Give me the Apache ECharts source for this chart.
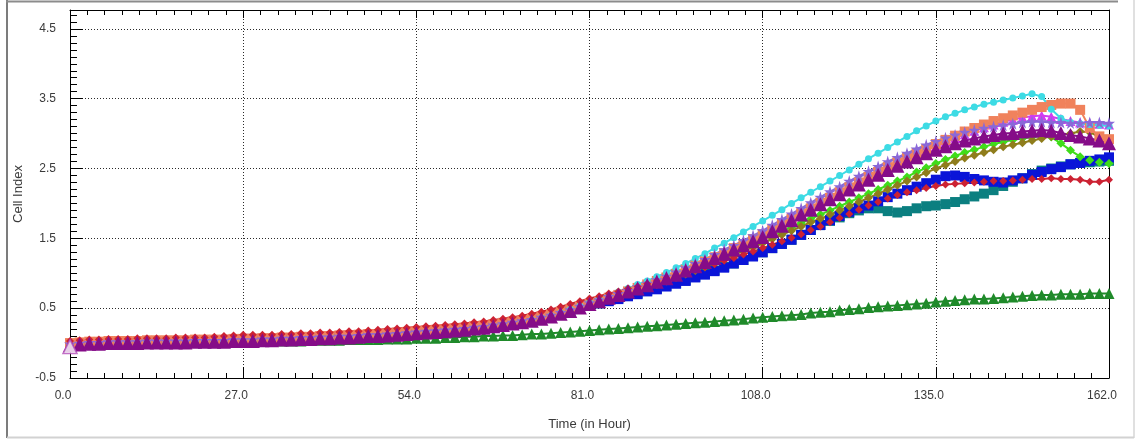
<!DOCTYPE html>
<html>
<head>
<meta charset="utf-8">
<script src="https://cdn.jsdelivr.net/npm/echarts@6/dist/echarts.min.js"></script>
<style>
  html, body { margin: 0; padding: 0; background: #ffffff; }
  #chart { width: 1140px; height: 443px; }
</style>
</head>
<body>
<div id="chart"></div>
<script>
// Cell Index time course, one array per well, sampled every 1.5 h
const hours = [0,1.5,3,4.5,6,7.5,9,10.5,12,13.5,15,16.5,18,19.5,21,22.5,24,25.5,27,28.5,
  30,31.5,33,34.5,36,37.5,39,40.5,42,43.5,45,46.5,48,49.5,51,52.5,54,55.5,57,58.5,
  60,61.5,63,64.5,66,67.5,69,70.5,72,73.5,75,76.5,78,79.5,81,82.5,84,85.5,87,88.5,
  90,91.5,93,94.5,96,97.5,99,100.5,102,103.5,105,106.5,108,109.5,111,112.5,114,115.5,117,118.5,
  120,121.5,123,124.5,126,127.5,129,130.5,132,133.5,135,136.5,138,139.5,141,142.5,144,145.5,147,148.5,
  150,151.5,153,154.5,156,157.5,159,160.5,162];

const ciPurple = [-0.03,-0.02,-0.01,-0.01,0.00,0.00,0.00,0.00,0.01,0.01, 0.01,0.01,0.01,0.02,0.02,0.02,0.02,0.03,0.03,0.03,
  0.04,0.04,0.05,0.05,0.06,0.06,0.07,0.07,0.08,0.08, 0.09,0.10,0.10,0.11,0.12,0.13,0.14,0.15,0.16,0.17,
  0.18,0.19,0.21,0.22,0.24,0.26,0.28,0.30,0.32,0.35, 0.38,0.42,0.46,0.51,
  0.56,0.60,0.65,0.69,0.74,0.78,0.83,0.88,0.93,0.98, 1.04,1.10,1.16,1.22,1.28,1.34,1.40,1.46,1.52,1.60,
  1.68,1.76,1.84,1.91,1.99,2.06,2.13,2.20,2.27,2.34, 2.41,2.48,2.54,2.60,2.66,2.72,2.77,2.82,2.86,2.90,
  2.93,2.96,2.98,3.00,3.01,3.03,3.04,3.05,3.04,3.01, 2.98,2.96,2.93,2.90,2.86];

const ciSlate = [-0.01,0.00,0.01,0.01,0.02,0.02,0.02,0.02,0.03,0.03, 0.03,0.03,0.03,0.04,0.04,0.04,0.04,0.05,0.05,0.05,
  0.06,0.06,0.07,0.07,0.08,0.08,0.09,0.09,0.10,0.10, 0.11,0.12,0.12,0.13,0.14,0.15,0.16,0.17,0.18,0.19,
  0.20,0.21,0.23,0.24,0.26,0.28,0.30,0.32,0.34,0.37, 0.40,0.44,0.48,0.53,
  0.58,0.62,0.67,0.71,0.76,0.81,0.86,0.91,0.96,1.02, 1.08,1.14,1.20,1.27,1.34,1.40,1.47,1.54,1.61,1.69,
  1.77,1.85,1.93,2.01,2.09,2.17,2.24,2.32,2.39,2.46, 2.53,2.60,2.66,2.72,2.78,2.84,2.89,2.94,2.98,3.02,
  3.05,3.08,3.10,3.12,3.14,3.16,3.17,3.17,3.16,3.16, 3.15,3.15,3.16,3.16,3.15];

const ciViolet = [-0.02,-0.01,0.00,0.00,0.01,0.01,0.01,0.01,0.02,0.02, 0.02,0.02,0.02,0.03,0.03,0.03,0.03,0.04,0.04,0.04,
  0.05,0.05,0.06,0.06,0.07,0.07,0.08,0.08,0.09,0.09, 0.10,0.11,0.11,0.12,0.13,0.14,0.15,0.16,0.17,0.18,
  0.19,0.20,0.22,0.23,0.25,0.27,0.29,0.31,0.33,0.36, 0.39,0.43,0.47,0.52,
  0.58,0.62,0.67,0.71,0.76,0.80,0.85,0.90,0.95,1.00, 1.06,1.12,1.18,1.24,1.30,1.36,1.42,1.49,1.55,1.63,
  1.71,1.79,1.87,1.94,2.02,2.09,2.16,2.24,2.31,2.38, 2.45,2.52,2.58,2.64,2.70,2.76,2.82,2.88,2.94,2.99,
  3.04,3.09,3.13,3.17,3.20,3.23,3.25,3.26,3.24,3.21, 3.18,3.16,3.15,3.14,3.13];

const ciCoral = [0.00,0.01,0.02,0.02,0.03,0.03,0.03,0.03,0.04,0.04, 0.04,0.04,0.04,0.05,0.05,0.05,0.05,0.06,0.06,0.06,
  0.07,0.07,0.08,0.08,0.09,0.09,0.10,0.10,0.11,0.11, 0.12,0.13,0.13,0.14,0.15,0.16,0.17,0.18,0.19,0.20,
  0.21,0.22,0.24,0.25,0.27,0.29,0.31,0.33,0.35,0.38, 0.41,0.45,0.49,0.53,
  0.56,0.60,0.65,0.69,0.74,0.79,0.84,0.89,0.94,0.99, 1.05,1.11,1.17,1.23,1.29,1.36,1.42,1.49,1.56,1.63,
  1.71,1.78,1.86,1.93,2.01,2.08,2.16,2.23,2.30,2.38, 2.45,2.52,2.59,2.65,2.72,2.78,2.85,2.91,2.97,3.03,
  3.08,3.13,3.18,3.22,3.26,3.30,3.34,3.38,3.41,3.43, 3.43,3.34,3.08,2.96,2.92];

const ciCyan = [-0.03,-0.02,-0.01,-0.01,0.00,0.00,0.00,0.00,0.01,0.01, 0.01,0.01,0.01,0.02,0.02,0.02,0.02,0.03,0.03,0.03,
  0.04,0.04,0.05,0.05,0.06,0.06,0.07,0.07,0.08,0.08, 0.09,0.10,0.10,0.11,0.12,0.13,0.14,0.15,0.16,0.17,
  0.18,0.19,0.21,0.22,0.24,0.26,0.28,0.30,0.33,0.36, 0.39,0.43,0.48,0.53,
  0.58,0.63,0.68,0.73,0.78,0.84,0.89,0.95,1.01,1.08, 1.14,1.21,1.28,1.36,1.43,1.51,1.59,1.67,1.75,1.83,
  1.91,2.00,2.08,2.16,2.24,2.32,2.40,2.48,2.56,2.64, 2.72,2.80,2.88,2.96,3.04,3.11,3.18,3.24,3.29,3.34,
  3.38,3.42,3.45,3.48,3.51,3.54,3.57,3.53,3.35,3.22, 3.16,3.14,3.13,3.12,3.11];

const ciLime = [-0.04,-0.03,-0.02,-0.02,-0.01,-0.01,-0.01,-0.01,0.00,0.00, 0.00,0.00,0.00,0.01,0.01,0.01,0.01,0.02,0.02,0.02,
  0.03,0.03,0.04,0.04,0.05,0.05,0.06,0.06,0.07,0.07, 0.08,0.09,0.09,0.10,0.11,0.12,0.13,0.14,0.15,0.16,
  0.17,0.18,0.20,0.21,0.23,0.25,0.27,0.29,0.31,0.34, 0.37,0.41,0.45,0.50,
  0.55,0.59,0.63,0.67,0.72,0.76,0.81,0.86,0.91,0.96, 1.01,1.07,1.12,1.18,1.24,1.30,1.36,1.42,1.48,1.54,
  1.60,1.66,1.72,1.78,1.84,1.90,1.96,2.02,2.08,2.14, 2.20,2.26,2.32,2.38,2.45,2.51,2.57,2.63,2.68,2.73,
  2.77,2.81,2.85,2.88,2.91,2.93,2.95,2.97,2.95,2.86, 2.76,2.67,2.62,2.59,2.57];

const ciOlive = [-0.03,-0.02,-0.02,-0.01,-0.01,0.00,0.00,0.00,0.00,0.01, 0.01,0.01,0.01,0.01,0.02,0.02,0.02,0.02,0.03,0.03,
  0.03,0.04,0.04,0.05,0.05,0.06,0.06,0.07,0.07,0.08, 0.08,0.09,0.10,0.10,0.11,0.12,0.13,0.14,0.15,0.16,
  0.17,0.18,0.20,0.21,0.23,0.25,0.27,0.29,0.31,0.34, 0.37,0.41,0.45,0.50,
  0.55,0.59,0.63,0.67,0.71,0.75,0.80,0.84,0.89,0.94, 0.99,1.04,1.09,1.15,1.20,1.26,1.32,1.37,1.43,1.49,
  1.55,1.61,1.67,1.73,1.78,1.84,1.90,1.96,2.02,2.08, 2.14,2.20,2.26,2.32,2.38,2.44,2.50,2.55,2.60,2.65,
  2.69,2.73,2.77,2.81,2.84,2.87,2.90,2.93,2.96,2.98, 3.00,3.03,3.02,2.95,2.87];

const ciBlue = [-0.04,-0.03,-0.02,-0.02,-0.01,-0.01,-0.01,-0.01,0.00,0.00, 0.00,0.00,0.00,0.01,0.01,0.01,0.01,0.02,0.02,0.02,
  0.03,0.03,0.04,0.04,0.05,0.05,0.06,0.06,0.07,0.07, 0.08,0.09,0.09,0.10,0.11,0.12,0.13,0.14,0.15,0.16,
  0.17,0.18,0.20,0.21,0.23,0.25,0.27,0.29,0.31,0.34, 0.37,0.41,0.45,0.50,
  0.54,0.57,0.60,0.63,0.67,0.70,0.74,0.77,0.81,0.85, 0.89,0.94,0.98,1.03,1.08,1.14,1.19,1.24,1.30,1.36,
  1.42,1.48,1.55,1.62,1.69,1.76,1.82,1.88,1.93,1.97, 2.03,2.09,2.14,2.19,2.24,2.29,2.34,2.39,2.40,2.38,
  2.35,2.33,2.31,2.30,2.33,2.36,2.41,2.45,2.49,2.52, 2.56,2.58,2.61,2.63,2.66];

const ciTeal = [-0.04,-0.03,-0.02,-0.02,-0.01,-0.01,-0.01,0.00,0.00,0.00, 0.00,0.00,0.01,0.01,0.01,0.01,0.02,0.02,0.02,0.02,
  0.03,0.03,0.04,0.04,0.05,0.05,0.06,0.06,0.07,0.07, 0.08,0.09,0.09,0.10,0.11,0.12,0.13,0.14,0.15,0.16,
  0.17,0.18,0.20,0.21,0.23,0.25,0.27,0.29,0.31,0.34, 0.37,0.41,0.45,0.50,
  0.54,0.57,0.61,0.64,0.68,0.71,0.75,0.78,0.82,0.86, 0.90,0.95,0.99,1.04,1.09,1.14,1.19,1.25,1.30,1.36,
  1.42,1.48,1.55,1.62,1.69,1.75,1.80,1.86,1.90,1.93, 1.93,1.89,1.87,1.89,1.93,1.96,1.97,1.99,2.02,2.06,
  2.10,2.14,2.19,2.25,2.31,2.36,2.42,2.47,2.50,2.53, 2.56,2.58,2.59,2.60,2.61];

const ciRed = [0.03,0.04,0.05,0.05,0.06,0.06,0.06,0.07,0.07,0.07, 0.07,0.08,0.08,0.08,0.08,0.09,0.10,0.11,0.12,0.12,
  0.12,0.12,0.13,0.13,0.14,0.14,0.15,0.15,0.16,0.17, 0.17,0.18,0.19,0.20,0.21,0.22,0.23,0.24,0.25,0.26,
  0.27,0.28,0.30,0.31,0.33,0.35,0.37,0.39,0.42,0.45, 0.48,0.52,0.56,0.60,
  0.64,0.67,0.71,0.74,0.78,0.81,0.85,0.89,0.93,0.97, 1.01,1.05,1.09,1.13,1.18,1.22,1.27,1.31,1.36,1.41,
  1.46,1.51,1.56,1.62,1.67,1.73,1.79,1.85,1.91,1.97, 2.02,2.07,2.12,2.16,2.19,2.22,2.25,2.27,2.28,2.29,
  2.30,2.31,2.32,2.32,2.33,2.34,2.35,2.35,2.36,2.35, 2.35,2.34,2.31,2.31,2.34];

const ciGreen = [-0.03,-0.02,-0.01,-0.01,0.00,0.00,0.00,0.00,0.01,0.01, 0.01,0.01,0.01,0.01,0.01,0.02,0.02,0.02,0.02,0.02,
  0.03,0.03,0.03,0.03,0.03,0.04,0.04,0.04,0.04,0.05, 0.05,0.05,0.05,0.06,0.06,0.06,0.07,0.07,0.07,0.08,
  0.08,0.09,0.09,0.10,0.10,0.11,0.11,0.12,0.13,0.13, 0.14,0.15,0.16,0.17,
  0.18,0.19,0.20,0.21,0.22,0.23,0.24,0.25,0.26,0.27, 0.28,0.29,0.30,0.31,0.32,0.33,0.34,0.36,0.37,0.38,
  0.39,0.40,0.41,0.43,0.44,0.45,0.47,0.48,0.49,0.51, 0.52,0.53,0.54,0.55,0.56,0.57,0.59,0.60,0.61,0.62,
  0.63,0.63,0.64,0.65,0.66,0.67,0.68,0.69,0.69,0.70, 0.70,0.70,0.71,0.71,0.71];

// highlighted first reading
const startPoint = [[0, -0.05]];

const yLabelValues = [-0.5, 0.5, 1.5, 2.5, 3.5, 4.5];

const FONT = 'Liberation Sans, Arial, sans-serif';
const STAR = 'path://M50,0 L61,35 L98,35 L68,57 L79,91 L50,70 L21,91 L32,57 L2,35 L39,35 Z';

function pairs(vals) { return hours.map((h, i) => [h, vals[i]]); }

function well(vals, color, symbol, size) {
  return {
    type: 'line',
    data: pairs(vals),
    xAxisIndex: 0,
    yAxisIndex: 0,
    symbol: symbol,
    symbolSize: size,
    showAllSymbol: true,
    clip: false,
    lineStyle: { color: color, width: 2 },
    itemStyle: { color: color },
    emphasis: { disabled: true },
    z: 3
  };
}

const chart = echarts.init(document.getElementById('chart'), null, { renderer: 'canvas' });

const dotted = { color: '#2a2a2a', width: 1, type: [1, 2] };
const black = { color: '#000', width: 1 };

chart.setOption({
  animation: false,
  backgroundColor: '#ffffff',
  grid: { left: 70, right: 31, top: 10, bottom: 65, containLabel: false },
  xAxis: [
    {
      type: 'value', position: 'bottom', min: 0, max: 162, interval: 27,
      axisLine: { show: true, onZero: false, lineStyle: black },
      axisTick: { show: true, inside: true, length: 11, lineStyle: black },
      minorTick: { show: true, splitNumber: 10, length: 5, lineStyle: black },
      axisLabel: {
        show: true, color: '#3a3a3a', fontSize: 12, fontFamily: FONT, margin: 12,
        padding: [0, 14, 0, 0],
        formatter: v => v.toFixed(1)
      },
      splitLine: { show: true, lineStyle: dotted },
      name: 'Time (in Hour)', nameLocation: 'middle', nameGap: 40,
      nameTextStyle: { color: '#3a3a3a', fontSize: 13, fontFamily: FONT }
    },
    {
      type: 'value', position: 'top', min: 0, max: 162, interval: 27,
      axisLine: { show: true, onZero: false, lineStyle: black },
      axisTick: { show: true, inside: true, length: 8, lineStyle: black },
      minorTick: { show: true, splitNumber: 10, length: 5, lineStyle: black },
      axisLabel: { show: false },
      splitLine: { show: false }
    }
  ],
  yAxis: [
    {
      type: 'value', position: 'left', min: -0.5, max: 4.77, interval: 1,
      axisLine: { show: true, onZero: false, lineStyle: black },
      axisTick: { show: true, inside: true, length: 13, lineStyle: black },
      axisLabel: {
        show: true, color: '#3a3a3a', fontSize: 12, fontFamily: FONT, margin: 14,
        formatter: v => yLabelValues.some(t => Math.abs(t - v) < 1e-6) ? v.toFixed(1) : ''
      },
      splitLine: { show: true, lineStyle: dotted },
      name: 'Cell Index', nameLocation: 'middle', nameRotate: 90, nameGap: 43,
      nameTextStyle: { color: '#3a3a3a', fontSize: 13, fontFamily: FONT }
    },
    {
      type: 'value', position: 'left', min: -0.5, max: 4.77, interval: 0.1,
      axisLine: { show: false },
      axisTick: { show: true, inside: true, length: 7, lineStyle: black },
      axisLabel: { show: false },
      splitLine: { show: false }
    },
    {
      type: 'value', position: 'right', min: -0.5, max: 4.77,
      axisLine: { show: true, onZero: false, lineStyle: black },
      axisTick: { show: false },
      axisLabel: { show: false },
      splitLine: { show: false }
    }
  ],
  series: [
    well(ciGreen, '#1f8a2a', 'triangle', 11),
    well(ciTeal, '#0b7f80', 'rect', 10),
    well(ciBlue, '#0a14d8', 'rect', 10),
    well(ciLime, '#3fdc1a', 'diamond', 9),
    well(ciOlive, '#8f7d1c', 'diamond', 9),
    well(ciViolet, '#d23cf0', 'triangle', 10),
    well(ciCoral, '#f0825c', 'rect', 10),
    well(ciCyan, '#3ddbe4', 'circle', 7),
    well(ciSlate, '#8a68d8', STAR, 12),
    well(ciRed, '#cc2233', 'diamond', 8),
    well(ciPurple, '#850c88', 'triangle', 14),
    {
      type: 'scatter',
      data: startPoint,
      symbol: 'triangle',
      symbolSize: 14,
      clip: false,
      itemStyle: { color: '#ffffff', borderColor: '#b24cb8', borderWidth: 1.5 },
      z: 5
    }
  ],
  graphic: [
    { type: 'line', shape: { x1: 7, y1: 0, x2: 7, y2: 438 }, style: { stroke: '#7c7c7c', lineWidth: 2 }, silent: true },
    { type: 'line', shape: { x1: 6, y1: 1.5, x2: 1118, y2: 1.5 }, style: { stroke: '#8c8c8c', lineWidth: 2 }, silent: true },
    { type: 'line', shape: { x1: 1134, y1: 0, x2: 1134, y2: 438 }, style: { stroke: '#d6d6d6', lineWidth: 1.5 }, silent: true },
    { type: 'line', shape: { x1: 7, y1: 437.5, x2: 1134, y2: 437.5 }, style: { stroke: '#d2d2d2', lineWidth: 2 }, silent: true }
  ]
});
</script>
</body>
</html>
